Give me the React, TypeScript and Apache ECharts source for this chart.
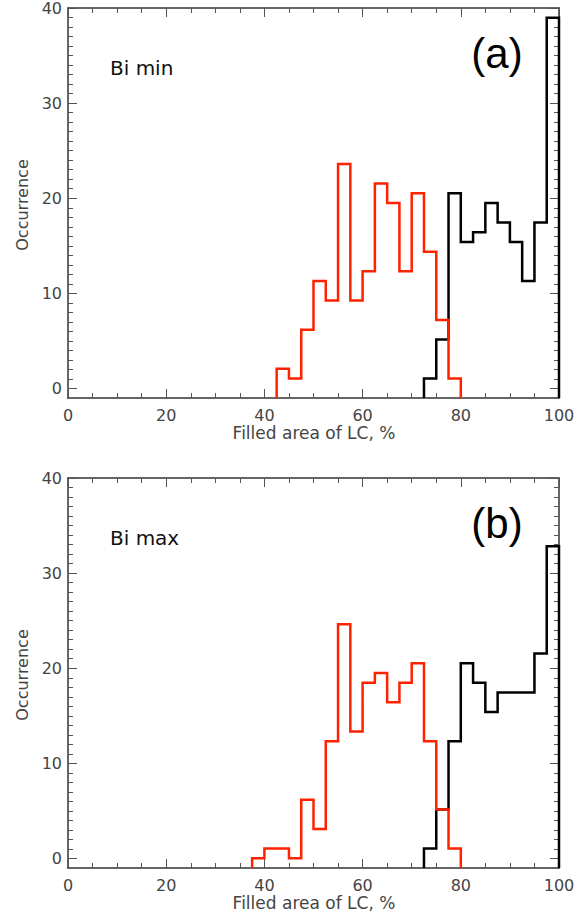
import React, { useEffect, useRef } from "react";
import * as echarts from "echarts";

// Histogram bin width (% of filled area)
const BIN_WIDTH = 2.5;

// Panel (a) "Bi min"
const A_RED_START = 42.5;
const A_RED = [3, 2, 7, 12, 10, 24, 10, 13, 22, 20, 13, 21, 15, 8, 2];
const A_BLACK_START = 72.5;
const A_BLACK = [2, 6, 21, 16, 17, 20, 18, 16, 12, 18, 39];

// Panel (b) "Bi max"
const B_RED_START = 37.5;
const B_RED = [1, 2, 2, 1, 7, 4, 13, 25, 14, 19, 20, 17, 19, 21, 13, 6, 2];
const B_BLACK_START = 72.5;
const B_BLACK = [2, 6, 13, 21, 19, 16, 18, 18, 18, 22, 33];

// Axis ticks
const X_MIN = 0;
const X_MAX = 100;
const X_STEP = 20;
const Y_MAJOR_TICKS = [0, 10, 20, 30, 40];
const Y_TICK_MIN = -1;
const Y_TICK_MAX = 40;

const PANEL_LABELS = ["Bi min", "Bi max"];
const PANEL_TAGS = ["(a)", "(b)"];
const X_TITLE = "Filled area of LC, %";
const Y_TITLE = "Occurrence";

const RED = "#ff2200";
const BLACK = "#000000";
const AXIS_COLOR = "#333333";
const TICK_COLOR = "#555555";
const LABEL_COLOR = "#444444";
const FONT = "DejaVu Sans";

function stepPoints(start: number, counts: number[]): number[][] {
  const pts: number[][] = [[start, 0]];
  counts.forEach((c, i) => {
    const x0 = start + i * BIN_WIDTH;
    pts.push([x0, c], [x0 + BIN_WIDTH, c]);
  });
  pts.push([start + counts.length * BIN_WIDTH, 0]);
  return pts;
}

export default function App() {
  const ref = useRef<HTMLDivElement>(null);

  useEffect(() => {
    if (!ref.current) return;
    const chart = echarts.init(ref.current, undefined, { renderer: "svg" });

    const gridTops = [8, 478];
    const grids = gridTops.map((t) => ({ left: 68, top: t, width: 491, height: 390 }));

    const axisLine = { show: true, onZero: false, lineStyle: { color: AXIS_COLOR, width: 1.5 } };

    const xAxes: any[] = [];
    const yAxes: any[] = [];
    const minorY: number[] = [];
    for (let v = Y_MAJOR_TICKS[0]; v <= Y_TICK_MAX; v += 1) minorY.push(v);

    gridTops.forEach((_, g) => {
      ["bottom", "top"].forEach((pos) => {
        xAxes.push({
          type: "value",
          gridIndex: g,
          position: pos,
          min: X_MIN,
          max: X_MAX,
          interval: X_STEP,
          axisLine,
          axisTick: { show: true, inside: true, length: 9, lineStyle: { color: TICK_COLOR, width: 1 } },
          minorTick: { show: true, splitNumber: 4, length: 5, lineStyle: { color: TICK_COLOR, width: 1 } },
          axisLabel: {
            show: pos === "bottom",
            margin: 9,
            color: LABEL_COLOR,
            fontFamily: FONT,
            fontSize: 16,
          },
          splitLine: { show: false },
        });
      });
      // data axis (hidden)
      yAxes.push({
        type: "value",
        gridIndex: g,
        position: "left",
        min: 0,
        max: 40,
        show: false,
      });
      ["left", "right"].forEach((pos) => {
        // minor ticks + axis line
        yAxes.push({
          type: "value",
          gridIndex: g,
          position: pos,
          min: Y_TICK_MIN,
          max: Y_TICK_MAX,
          axisLine,
          axisTick: {
            show: true,
            inside: true,
            length: 5,
            customValues: minorY,
            lineStyle: { color: TICK_COLOR, width: 1 },
          },
          axisLabel: { show: false },
          splitLine: { show: false },
        });
        // major ticks + labels
        yAxes.push({
          type: "value",
          gridIndex: g,
          position: pos,
          min: Y_TICK_MIN,
          max: Y_TICK_MAX,
          axisLine: { show: false },
          axisTick: {
            show: true,
            inside: true,
            length: 9,
            customValues: Y_MAJOR_TICKS,
            lineStyle: { color: TICK_COLOR, width: 1 },
          },
          axisLabel: {
            show: pos === "left",
            customValues: Y_MAJOR_TICKS,
            margin: 6,
            color: LABEL_COLOR,
            fontFamily: FONT,
            fontSize: 16,
          },
          splitLine: { show: false },
        });
      });
    });

    const panels = [
      { red: stepPoints(A_RED_START, A_RED), black: stepPoints(A_BLACK_START, A_BLACK) },
      { red: stepPoints(B_RED_START, B_RED), black: stepPoints(B_BLACK_START, B_BLACK) },
    ];

    const series: any[] = [];
    panels.forEach((p, g) => {
      [
        { data: p.black, color: BLACK },
        { data: p.red, color: RED },
      ].forEach((s) => {
        series.push({
          type: "line",
          xAxisIndex: g * 2,
          yAxisIndex: g * 5,
          data: s.data,
          symbol: "none",
          clip: false,
          lineStyle: { color: s.color, width: 2.5, join: "miter", cap: "butt" },
          silent: true,
        });
      });
    });

    const graphic: any[] = [];
    gridTops.forEach((t, g) => {
      graphic.push(
        {
          type: "text",
          x: 110,
          y: t + 60,
          style: {
            text: PANEL_LABELS[g],
            fill: "#111",
            fontFamily: FONT,
            fontSize: 20,
            textVerticalAlign: "middle",
          },
        },
        {
          type: "text",
          x: 497,
          y: t + 45,
          style: {
            text: PANEL_TAGS[g],
            fill: "#000",
            fontFamily: "Liberation Sans",
            fontSize: 42,
            textAlign: "center",
            textVerticalAlign: "middle",
          },
        },
        {
          type: "text",
          x: 314,
          y: t + 425,
          style: {
            text: X_TITLE,
            fill: LABEL_COLOR,
            fontFamily: FONT,
            fontSize: 17,
            textAlign: "center",
            textVerticalAlign: "middle",
          },
        },
        {
          type: "text",
          x: 22,
          y: t + 197,
          rotation: Math.PI / 2,
          style: {
            text: Y_TITLE,
            fill: LABEL_COLOR,
            fontFamily: FONT,
            fontSize: 16,
            textAlign: "center",
            textVerticalAlign: "middle",
          },
        }
      );
    });

    chart.setOption({
      animation: false,
      backgroundColor: "#ffffff",
      grid: grids,
      xAxis: xAxes,
      yAxis: yAxes,
      series,
      graphic,
    });

    return () => chart.dispose();
  }, []);

  return (
    <div
      ref={ref}
      style={{ position: "fixed", left: 0, top: 0, width: 580, height: 917, background: "#fff" }}
    />
  );
}
